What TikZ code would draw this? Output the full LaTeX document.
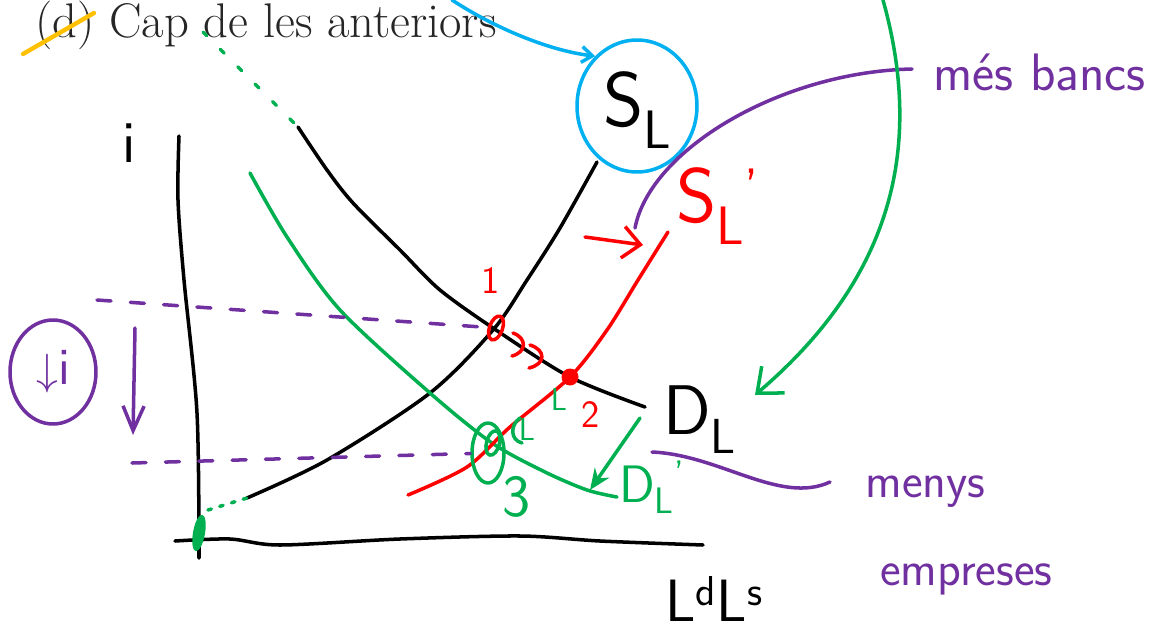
\documentclass[tikz,border=0pt]{standalone}
\usepackage{fontspec}
\usepackage{amsmath}
\usetikzlibrary{arrows.meta, positioning, calc, shapes.geometric}
\definecolor{cblue}{HTML}{00B0F0}
\definecolor{cgreen}{HTML}{00B050}
\definecolor{cred}{HTML}{FF0000}
\definecolor{cpurple}{HTML}{7030A0}
\definecolor{cyellow}{HTML}{FFC000}

\begin{document}
\begin{tikzpicture}[x=0.02cm, y=-0.02cm,
  pen/.style={line width=2pt, line cap=round, line join=round},
  hand/.style={inner sep=0pt, font=\sffamily},
  pdash/.style={pen, cpurple, dash pattern=on 8pt off 11pt}]
\useasboundingbox (0,0) rectangle (1149,632);

% heading of the exercise
\node[anchor=base west, inner sep=0pt, text=black!85, font=\fontsize{27.7}{32}\selectfont] (title) at (35,37) {(d) Cap de les anteriors};
\draw[pen, cyellow, line width=2.5pt] (23,54) -- (94,13);

% axes
\draw[pen] plot[smooth] coordinates {(179,136) (178,200) (184,280) (197,413) (199,558)};
\draw[pen] plot[smooth] coordinates {(175,541) (230,539) (280,545) (400,539) (520,536) (600,541) (703,545)};
\node[hand, font=\sffamily\fontsize{34}{34}\selectfont] (iaxis) at (129,143) {i};
\node[hand, anchor=base west, font=\sffamily\fontsize{34}{34}\selectfont] (Laxis) at (665,621) {L\textsuperscript{d}L\textsuperscript{s}};
\node[ellipse, fill=cgreen, minimum width=0.24cm, minimum height=0.74cm, inner sep=0pt, rotate=-10] (orig) at (199,533) {};

% curves
\coordinate (slstart) at (247,498);
\coordinate (gdot) at (208,510);
\coordinate (dlup) at (203,32);
\coordinate (dltop) at (298,127);
\draw[pen] plot[smooth] coordinates {(247,498) (327,460) (430,393) (493,330) (527,280) (560,228) (597,162)};
\draw[pen] plot[smooth] coordinates {(298,127) (327,170) (353,203) (400,250) (440,290) (496,330) (570,377) (645,407)};
\draw[pen, cgreen] plot[smooth] coordinates {(250,173) (287,237) (340,310) (430,393) (492,443) (545,472) (587,490) (617,497)};
\draw[pen, cred] plot[smooth] coordinates {(408,495) (467,467) (510,427) (570,377) (607,330) (638,280) (668,232)};
\draw[pen, cgreen, dash pattern=on 2pt off 5pt] (gdot) -- (slstart);
\draw[pen, cgreen, dash pattern=on 3pt off 11pt] (dlup) -- (dltop);

% equilibria
\node[ellipse, draw=cred, pen, minimum width=0.26cm, minimum height=0.5cm, inner sep=0pt, rotate=-20] (p1) at (496,328) {};
\node[circle, fill=cred, minimum size=0.34cm, inner sep=0pt] (p2) at (570,377) {};
\node[ellipse, draw=cgreen, pen, minimum width=0.26cm, minimum height=0.5cm, inner sep=0pt, rotate=-15] (p3) at (493,443) {};
\node[ellipse, draw=cgreen, pen, minimum width=0.64cm, minimum height=1.2cm, inner sep=0pt] (ring3) at (488,453) {};
\node[hand, text=cred, font=\sffamily\fontsize{22}{22}\selectfont] (n1) at (491,281) {1};
\node[hand, text=cred, font=\sffamily\fontsize{22}{22}\selectfont] (n2) at (591,415) {2};
\node[hand, text=cgreen, font=\sffamily\fontsize{34}{34}\selectfont] (n3) at (517,497) {3};
\node[hand, text=cgreen, font=\sffamily\fontsize{18}{18}\selectfont] (gL1) at (559,400) {L};
\node[hand, text=cgreen, font=\sffamily\fontsize{18}{18}\selectfont] (gL2) at (527,430) {L};
\draw[pen, cgreen] (520,418) .. controls (510,425) and (510,440) .. (522,443);
\draw[pen, cred] (513,333) .. controls (527,338) and (527,352) .. (512,356);
\draw[pen, cred] (530,345) .. controls (546,350) and (546,364) .. (529,368);

% curve names
\node[ellipse, draw=cblue, pen, minimum width=2.4cm, minimum height=2.64cm] (SLring) at (637,106) {};
\node[hand, font=\sffamily\fontsize{44}{44}\selectfont] (SL) at (638,110) {S\textsubscript{L}};
\node[hand, text=cred, font=\sffamily\fontsize{44}{44}\selectfont] (SLp) at (718,206) {S\textsubscript{L}\textsuperscript{'}};
\node[hand, font=\sffamily\fontsize{40}{40}\selectfont] (DL) at (700,420) {D\textsubscript{L}};
\node[hand, text=cgreen, font=\sffamily\fontsize{30}{30}\selectfont] (DLp) at (652,487) {D\textsubscript{L}\textsuperscript{'}};

% shifts
\coordinate (shiftL) at (585,237);
\coordinate (shiftR) at (643,245);
\draw[pen, cred, -{Straight Barb[length=10pt, width=18pt]}] (shiftL) -- (shiftR);
\coordinate (dshA) at (640,418);
\coordinate (dshB) at (590,490);
\draw[pen, cgreen, -{Stealth[length=12pt, width=10pt]}] (dshA) -- (dshB);

% interest rate
\coordinate (hiA) at (97,300);
\coordinate (loA) at (132,463);
\draw[pdash] (hiA) -- (p1);
\draw[pdash] (loA) -- (ring3);
\coordinate (dropA) at (135,328);
\coordinate (dropB) at (133,435);
\draw[pen, cpurple, -{Straight Barb[length=14pt, width=12pt]}] (dropA) -- (dropB);
\node[ellipse, draw=cpurple, pen, minimum width=1.72cm, minimum height=2.08cm, inner sep=0pt, text=cpurple, font=\fontsize{30}{30}\selectfont] (fall) at (53,372) {$\downarrow$\textsf{i}};

% notes
\node[hand, anchor=base west, text=cpurple, font=\sffamily\fontsize{30}{30}\selectfont] (banks) at (933,90) {més bancs};
\node[hand, anchor=base west, text=cpurple, font=\sffamily\fontsize{28}{28}\selectfont] (menys) at (865,497) {menys};
\node[hand, anchor=base west, text=cpurple, font=\sffamily\fontsize{28}{28}\selectfont] (empreses) at (880,585) {empreses};
\coordinate (bankstail) at (912,69);
\coordinate (banksend) at (635,228);
\draw[pen, cpurple] (bankstail) .. controls (780,72) and (650,150) .. (banksend);
\coordinate (menystail) at (830,482);
\coordinate (menysend) at (652,452);
\draw[pen, cpurple] (menystail) .. controls (780,505) and (720,455) .. (menysend);
\coordinate (gtop) at (883,0);
\coordinate (gtip) at (755,395);
\draw[pen, cgreen, -{Straight Barb[length=12pt, width=20pt]}] (gtop) .. controls (925,150) and (890,280) .. (gtip);
\coordinate (bluetop) at (452,0);
\draw[pen, cblue, -{Straight Barb[length=6pt, width=9pt]}] (bluetop) .. controls (490,25) and (545,50) .. (SLring.130);
\end{tikzpicture}
\end{document}
